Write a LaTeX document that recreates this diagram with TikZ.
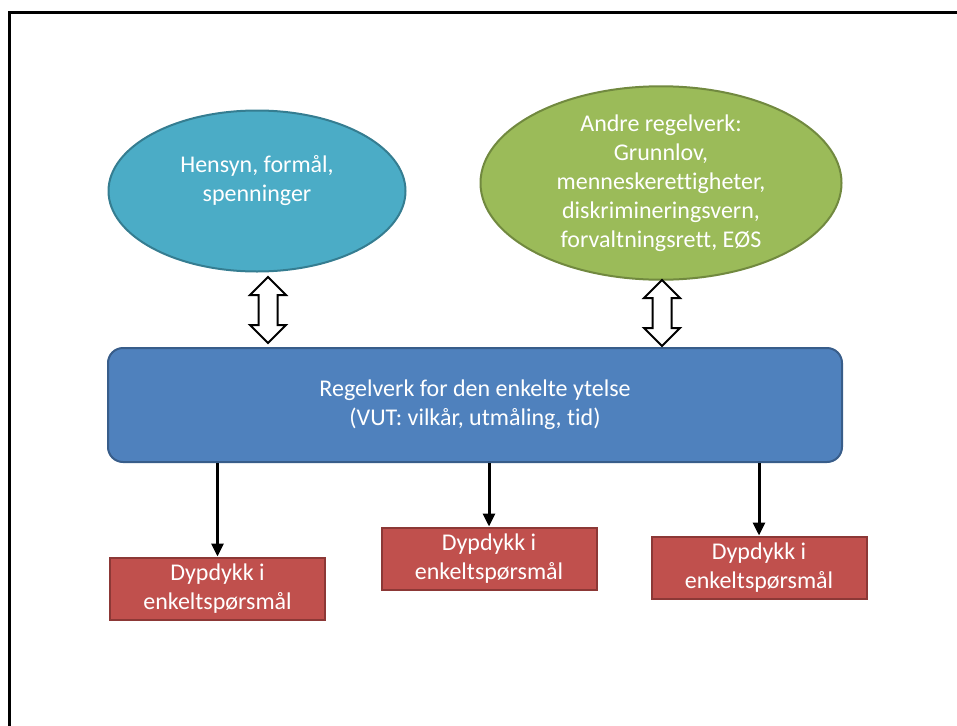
\documentclass[tikz,border=0pt]{standalone}
\usepackage{fontspec}
\setmainfont{Carlito}[RawFeature=-liga, RawFeature=-clig, RawFeature=-calt, RawFeature=-dlig]
\usetikzlibrary{shapes.geometric,shapes.arrows,arrows.meta}
\definecolor{aqua}{HTML}{4BACC6}
\definecolor{aquaedge}{HTML}{357D91}
\definecolor{olive}{HTML}{9BBB59}
\definecolor{oliveedge}{HTML}{71893F}
\definecolor{steel}{HTML}{4F81BD}
\definecolor{steeledge}{HTML}{385D8A}
\definecolor{brick}{HTML}{C0504D}
\definecolor{brickedge}{HTML}{8C3836}
\begin{document}
\begin{tikzpicture}[x=1pt, y=-1pt, line width=2pt,
        oval/.style = {draw, ellipse, inner sep=0pt, text=white, align=center, font=\fontsize{24}{29}\selectfont},
        rule/.style = {draw=steeledge, fill=steel, rounded corners=15pt, minimum width=734pt, minimum height=114pt, text=white, align=center, font=\fontsize{24}{29}\selectfont},
        dive/.style = {draw=brickedge, fill=brick, minimum width=215pt, minimum height=62pt, text=white, align=center, font=\fontsize{24}{29}\selectfont},
        link/.style = {draw, fill=white, double arrow, rotate=90, inner sep=0pt, text height=8.5pt, text depth=8.5pt, minimum height=66pt, minimum width=34pt, double arrow head extend=8.5pt},
        down/.style = {line width=3pt, -{Triangle[length=13pt,width=12pt]}}]
        \useasboundingbox (0,0) rectangle (957,725);
        \draw[line width=3pt] (9,740) -- (9,12.5) -- (970,12.5);

        \node[oval, draw=aquaedge, fill=aqua, minimum width=297pt, minimum height=161pt, text depth=25pt] (aim) at (257,191) {Hensyn, formål,\\spenninger};
        \node[oval, draw=oliveedge, fill=olive, minimum width=361pt, minimum height=189pt] (law) at (661,183) {Andre regelverk:\\Grunnlov,\\menneskerettigheter,\\diskrimineringsvern,\\forvaltningsrett, EØS};

        \node[rule] (vut) at (475,405) {Regelverk for den enkelte ytelse\\(VUT: vilkår, utmåling, tid)};

        \node[link] (l1) at (268,310) {};
        \node[link] (l2) at (662,313) {};

        \node[dive] (d1) at (217.5,588.5) {Dypdykk i\\enkeltspørsmål};
        \node[dive] (d2) at (489,558.5) {Dypdykk i\\enkeltspørsmål};
        \node[dive] (d3) at (759,567.5) {Dypdykk i\\enkeltspørsmål};

        \draw[down] (vut.south -| d1) -- (d1.north);
        \draw[down] (vut.south -| d2) -- (d2.north);
        \draw[down] (vut.south -| d3) -- (d3.north);

    \end{tikzpicture}
\end{document}
